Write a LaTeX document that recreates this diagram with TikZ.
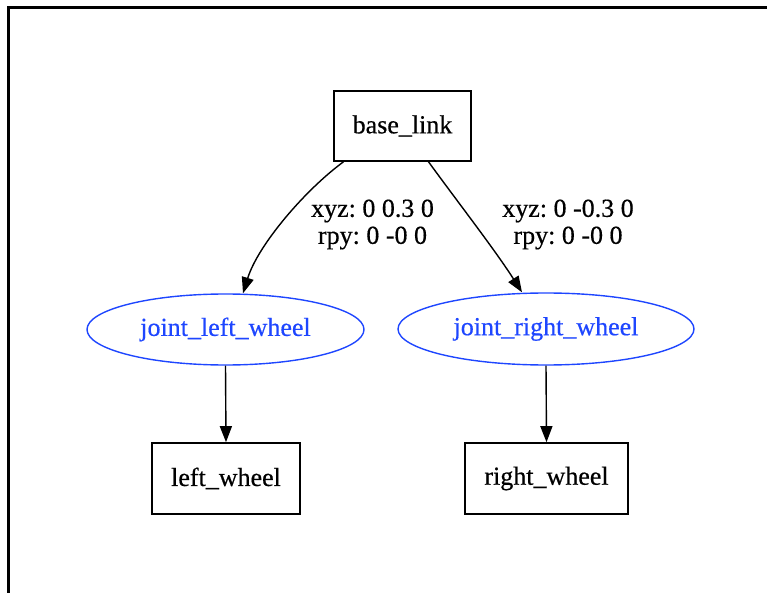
\documentclass[tikz,border=0pt]{standalone}
\usepackage{fontspec}
\setmainfont[FakeBold=0.5]{Liberation Serif}
\usetikzlibrary{shapes.geometric,arrows.meta}
\definecolor{jointblue}{RGB}{30,70,255}
\frenchspacing
\begin{document}
\begin{tikzpicture}[x=1pt,y=-1pt,
  labelfont/.style={font=\fontsize{26}{27}\selectfont},
  link/.style={draw, rectangle, line width=1.6pt, inner sep=0pt, labelfont},
  joint/.style={draw=jointblue, text=jointblue, ellipse, line width=1.4pt, inner sep=0pt, labelfont},
  tf/.style={-{Triangle[length=16pt,width=12pt]}, line width=1.4pt},
  tflabel/.style={align=center, inner sep=0pt, labelfont}]
  \useasboundingbox (0,0) rectangle (767,593);
  % frame (top and left sides only)
  \draw[line width=2.5pt, line join=miter] (8.7,600) -- (8.7,7.3) -- (775,7.3);

  % links and joints
  \node[link, minimum width=137pt, minimum height=70pt] (base) at (402.5,126) {base\_link};
  \node[joint, minimum width=277pt, minimum height=71pt] (jl) at (225.5,329.5) {joint\_left\_wheel};
  \node[joint, minimum width=296pt, minimum height=72pt] (jr) at (546,329) {joint\_right\_wheel};
  \node[link, minimum width=148pt, minimum height=71pt] (lw) at (226,478.5) {left\_wheel};
  \node[link, minimum width=163pt, minimum height=71pt] (rw) at (546.5,478.5) {right\_wheel};

  % transforms
  \draw[tf] ([xshift=-59pt]base.south) .. controls (305,190) and (258,245) .. ([xshift=17.5pt]jl.north);
  \draw[tf] ([xshift=26pt]base.south) .. controls (460,205) and (495,250) .. ([xshift=-24pt]jr.north);
  \draw[tf] (jl.south) -- (lw.north);
  \draw[tf] (jr.south) -- (rw.north);

  \node[tflabel] (tl) at (372.5,224.5) {xyz: 0 0.3 0\\rpy: 0 -0 0};
  \node[tflabel] (tr) at (568,224.5) {xyz: 0 -0.3 0\\rpy: 0 -0 0};
\end{tikzpicture}
\end{document}
